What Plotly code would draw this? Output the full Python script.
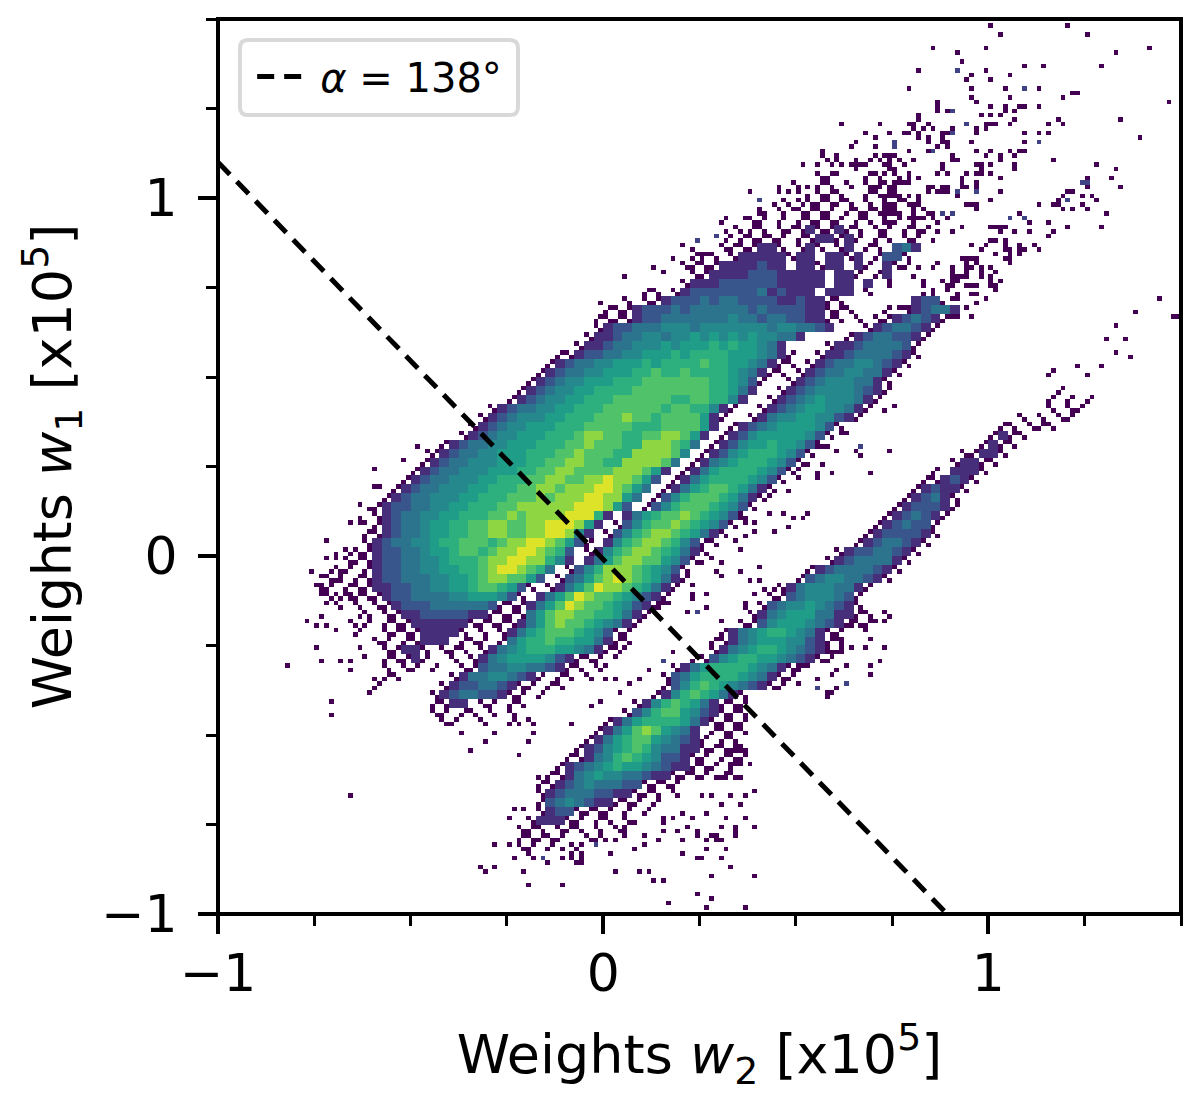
import numpy as np
import plotly.graph_objects as go

BIN = 0.0125          # true histogram bin
FIRST_ROW = 15
# 2-D histogram on a grid of two bins per cell, top row first.
# Each token is "first column:levels"; levels 0-9 are colour steps, "." is an empty cell.
# Level 0 means a sparsely filled cell (only a diagonal pair of its bins is hit).
ROWS = [
"68:0.0",
"66:0..0",
"62:00...00.0",
"62:00.0.0000",
"62:000..0000",
"61:00000.0.0000",
"56:0.0.0000.000000",
"55:00.0.00000.00.00.0",
"55:00.000100100.00.000",
"54:00000.0011010.00.00",
"52:0000110.010.01.00.0 70:231",
"50:00.011111011.1101.01 69:220",
"48:00001111211.11011.10.0 69:100",
"49:00111122211111.110.01",
"48:011122222211111.11.1",
"44:00.012222222312111.111.0",
"42:0.001222323322221121100 72:122",
"40:00012223233333323222211000 71:012331",
"39:00001223333333433233221100.0 68:00123210",
"39:0122333444344444443443321 67:01233210",
"38:01123344344545454544331 65:012332210",
"37:0112334445455565655431 63:0112333320",
"35:0012233445556566665554310 62:01123333210",
"34:01233445556566667665543100 61:01233443210",
"33:01233445556676676666543100 60:01233443310",
"32:0123445556667777777665420 59:01234443310",
"31:0123445566667777777766531 58:012344443210 87:0",
"30:0123445566677777766776641 57:012345444310 86:0.0.0",
"28:01233445566677777767766410 56:012345544310 85:.0.00",
"27:01234445566677787767777510 55:013445544210 83:0.0.00",
"26:01234455566677777666777751 53:012345555420 81:00.000",
"25:01234455566678877667788751 52:012455555420 80:0100",
"23:012334455566677877766888763 51:012455655420 79:0100",
"22:012334455566677877766888874 50:012456665420 77:00110",
"21:012334445556677887766888873 49:013456665420 76:01100",
"20:012334445556677887777888751 48:013566665420 74:0.1110",
"19:012334445566677887788988752 47:013566665420 73:001210",
"18:012334445566677887888998753 46:013567765310 72:012110",
"17:012334445566677787888998853 45:024677765310 71:012310",
"16:012233445566677888888999852 44:024677765420 70:0122210",
"16:0123344556667787888899961 42:1356778765420 69:0123210",
"16:012334556677887788999851 41:0246778765420 68:0123220",
"15:001233455667788778899841 40:0246788765310 67:01222210",
"15:012334456677767889987520 40:146788764200 66:01233210",
"14:00122334556776788998762 38:01 40:46788765310 64:012233210",
"13:000122334456667889988641 38:135788775420 63:012333310",
"12:00.01223344556678998763 36:0246888765420 61:0123333210",
"11:00.00122333445567887752 35:02357898765310 60:0234433210",
"10:00.00011223344556776520 34:01357988765310 58:0134443310",
"11:0.0000122333344555420 33:13579877654210 57:0023444320",
"12:0.0.001222333333200 31:013579877654210 56:02344543210",
"15:0.00112222211000 31:03578877665310 55:0134555331100.0",
"15:0.0001111110000 30:01357877654310 54:00245554321000",
"14:0..000011110.0. 29:01356777654200 52:0134566543100",
"16:00.00111.000. 29:03566766553100 51:00134555442100",
"17:00110.000.0 28:13456665543100 51:01345665432100",
"17:00010..0. 26:01345555421000 49:002456655432100",
"17:0.00.0..0 26:023344332100.0 47:01356666543100",
"17:00 24:0133443210.00.0 46:02356666543100",
"16:0 23:0122332100.00 46:0246765432100",
"22:0123322100.0 45:0146765310",
"22:0011.00.00 43:014676531000",
"22:00.00.0.0 42:0246775421000",
"23:00..0..0 40:013566665310000",
"39:01357875431.0000",
"38:0135677543210.0 52:00",
"37:0124567643311000 53:00",
"36:001346765422100.000",
"35:01234565543211000.0",
"34:00134544332110000.00",
"33:001234333220000",
"33:0123332211000.0",
"33:02343211000.0",
"33:01220000.0.0",
"32:011100.00.0",
"31:000.000.0.0",
"31:00000..00",
"31:00.0",
"32:0",
]
# Colour position of each level on the viridis ramp
LEVEL_POS = [0, .13, .27, .38, .47, .55, .63, .72, .83, .95]

# Isolated single-count bins: (w1, [w2, ...])
SPARSE_ROWS = [
(1.48,[1.005,1.205]),(1.453,[1.03,1.255]),(1.416,[.856,.993,1.418]),(1.403,[.918,1.33]),(1.379,[.931]),
(1.366,[1.093,1.143,1.293]),(1.353,[.818,.993]),(1.341,[.956,1.056]),(1.328,[.944,1.005]),
(1.303,[.794,.956,1.043,1.13]),(1.291,[1.218,1.23]),(1.278,[.956,1.056,1.193]),(1.265,[.868,.969,1.468]),
(1.253,[.868,1.005,1.043,1.08,1.093,1.13]),(1.241,[.868,.893,1.043,1.068]),(1.228,[.981,1.005,1.03,.818]),
(1.216,[.818,1.068,1.181,1.342]),(1.202,[.718,.805,.794,.843,.993,1.005,1.018,1.056,1.155,1.193]),
(1.191,[.993,.831,.856,.905,.969,.805]),(1.178,[.744,.782,.794,.818,.88,.893,.969,1.093,1.13,1.155]),
(1.165,[.818,.843,.88,1.393]),(1.153,[.843,.88,.893,.956,1.093]),(1.141,[.868,.893]),
(1.128,[.794,.843,.969,1.005,1.056,1.08,1.093]),(1.115,[.905,.993,1.03,1.068,.731,.744,.757]),
(1.104,[.905,.918,1.03,1.168,.744,.805]),(1.092,[1.28,.969,.981,1.005,1.068,.88,.731,.782]),
(1.079,[1.068,1.33,.88,.981,.757]),(1.067,[.969,.981,.868,.893,.944,1.005,.757,.731,.794]),
(1.054,[1.03,1.255,1.317,.931,.794,.818]),(1.042,[.931,.969,.782,.794,.757]),
(1.03,[1.255,1.342,.931,.944,.969,.843,.856,.88,.893,.757,.718]),(1.017,[.868,.88,.893,.843,1.03,1.205,1.218]),
(1.005,[.918,1.193,1.243,1.268,.744,.757,.794,.818]),(.992,[1.005,1.28,1.181,.731,.768]),
(.979,[.944,.956,.969,1.13,1.168,1.181,1.243,.794,.818,.731]),(.967,[.969,1.193,1.218,1.255,.731,.805,.831]),
(.953,[1.08,1.305,.744,.757,.805,.843,.856]),(.941,[.794,.805,.818,.831,.856,.893]),(.929,[.868,.731,1.105,1.155]),
(.916,[.931,1.205,1.293,1.005,1.018,1.03,1.043]),(.904,[.868,.905,1.03,1.068,1.105,1.168]),(.891,[1.155]),
(.879,[1.005,1.018,1.043,.856]),(.867,[.956,.993,1.043,1.08,1.118]),(.855,[.981,1.043,1.056,1.08,1.093,1.13]),
(.842,[1.018,1.056,1.08]),(.83,[.931,.944,.956,.969,1.043,1.056]),(.818,[.868,.944,.969,1.056]),
(.805,[.818,.856,.905,.944,.956,.981,1.005]),(.792,[.905,.944,.981,1.018]),(.78,[.905,.918,.931,.944,.981,1.005,.805]),
(.767,[.831,.88,.905,.918,1.005,1.03,.744]),(.755,[.831,.893,.905,.944,.956,.969,1.005,1.018,.744]),
(.743,[.856,.893,1.018]),(.73,[.831,.856,.918,.956,.969]),(.718,[.818,.831,.856,.868,.905,.918,.993,1.443]),
(.706,[.856,.88,.969]),(.693,[.744,.768,.794,.818,.843,.856,.905,.918,.944]),
(.681,[.731,.794,.805,.818,.831,.843,.856,.868,.88,.905,1.38]),(.669,[.756,.782,.805,.831,.905,.918,.956,1.48,1.493]),
(.718,[1.445]),(.668,[1.49]),(.642,[1.329]),(.601,[1.303,1.355]),(.567,[1.329]),(.559,[1.368]),(.531,[1.225,1.29]),
(.517,[1.165]),(.503,[1.152,1.251]),
(1.203,[.618,.718]),(1.178,[.68,.743]),(1.165,[.705]),(1.153,[.655]),(1.141,[.643,.705]),(1.127,[.568]),
(1.114,[.568,.605,.705,.727,.744]),(1.101,[.605,.58,.655,.692]),(1.092,[.518,.556,.593,.618,.643,.655,.68,.736,.749]),
(1.075,[.756]),(1.068,[.606]),(1.042,[.493]),(1.029,[.455,.505,.531,.556]),(1.017,[.381,.455,.48,.505]),(1.003,[.531]),
(.991,[.467,.505]),(.982,[.518]),(.978,[.443,.48]),(.968,[.493]),(.954,[.405,.417]),(.942,[.317]),(.94,[.368,.381]),
(.929,[.305]),(.915,[.342]),(.902,[.317,.355]),(.892,[.33]),(.88,[.317]),(.866,[.204,.305]),(.854,[.23]),
(.843,[.243,.256,.269]),(.829,[.18,.23]),(.804,[.131]),(.791,[.156]),(.779,[.056]),(.703,[-.005]),
(.419,[.756]),(.403,[.731]),(.386,[.649]),(.377,[.602,.662]),(.358,[.58]),(.34,[.615,.632]),(.312,[.528]),
(.303,[.554,.58]),(.291,[.744,.606,.656]),(.277,[.668]),(.275,[.511]),(.256,[.537,.563,.493]),(.238,[.511]),
(.228,[.593,.692,.556]),(.219,[.502]),(.214,[.556]),(.182,[.45]),(.177,[.481]),(.163,[.433]),(.154,[.416]),
(.116,[.431,.468,.531]),(.107,[.355]),(.102,[.493,.518]),(.089,[.368,.398]),(.079,[.481]),(.065,[.443,.394]),
(.061,[.364]),(.051,[.321]),(.042,[.338]),(.014,[.355]),(-.005,[.286]),(-.023,[.312,.251]),(-.035,[.406]),
(-.042,[.294]),(-.048,[.356]),(-.06,[.306]),(-.073,[.381,.406]),(-.086,[.231]),(-.098,[.417,.442]),
(-.11,[.393,.268,.231]),(-.123,[.231]),(-.126,[.156,.169]),(-.135,[.368]),(-.137,[.169]),(-.146,[.368]),
(-.147,[.144,.268]),(-.159,[.218]),(-.181,[.701,.623]),(-.184,[.306]),(-.186,[.727]),(-.191,[.649]),(-.209,[.675]),
(-.228,[.692]),(-.237,[.597,.615]),(-.258,[.057]),(-.261,[.73,.68,.643]),(-.265,[.545]),(-.27,[.618]),(-.272,[.181]),
(-.275,[.58]),(-.284,[.031]),(-.293,[.563]),(-.298,[.718]),(-.303,[.511]),(-.309,[.63,.692]),(-.311,[.006]),
(-.312,[.528]),(-.323,[.606,.119]),(-.33,[.589]),(-.335,[.692]),(-.34,[.554]),(-.345,[.006,.031,.094]),
(-.358,[.511,.07]),(-.363,[.606]),(-.372,[.606]),(-.386,[.044,.58,.593,.043]),(-.4,[.58]),
(.24,[-.595]),(.191,[-.588,-.577]),(.265,[-.519]),(.303,[-.483]),(.291,[-.457]),(.141,[-.631]),(.129,[-.607]),
(.102,[-.631]),(.09,[-.657,-.631,-.618]),(.04,[-.72]),(.016,[-.668]),(.01,[-.631]),(.005,[-.657]),(.002,[-.694]),
(-.01,[-.694,-.72]),(-.02,[-.644]),(-.03,[-.657]),(-.047,[-.756,-.707]),(-.06,[-.732]),(-.075,[-.7,-.687]),
(-.086,[-.732]),(-.1,[-.66]),(-.112,[-.694,-.732]),(-.116,[-.675,-.66]),(-.126,[-.72]),(-.137,[-.72]),
(-.172,[-.732,-.631]),(-.185,[-.769,-.657]),(-.198,[-.744,-.72,-.644]),(-.209,[-.694]),(-.251,[-.631]),
(-.261,[-.744]),(-.284,[-.623]),(-.298,[-.732,-.681,-.657]),(-.307,[-.821]),(-.323,[-.657]),(-.349,[-.592]),
(-.377,[-.605]),(-.405,[-.704]),(-.444,[-.709]),(-.673,[-.652]),
(-.548,[-.345]),(-.561,[-.22]),(-.811,[-.281,-.245,-.082,-.057,.105]),(-.71,[-.232,-.208]),(-.736,[-.245,.18,.23,.317,.368,.156]),
(-.849,[-.232,.243,.255,.305,-.107,-.082,-.057]),(-.873,[-.32,-.314,-.281,.33]),(-.885,[-.308,-.208,.03,.093,.118]),
(-.923,[-.195,-.107]),(-.623,[-.17]),(-.636,[-.145]),(-.649,[-.17]),(-.91,[.131,.156]),(-.964,[.168]),(-.973,[.168]),
(-.948,[.243]),(-.961,[.279]),(-.985,[.267,.368]),(-.898,[.279,.393]),(-.836,[.205,.017]),(-.824,[.267,.317,.08,-.07,-.107]),
(-.761,[.393,.305,.342,.218,.055]),(-.723,[.267,.205]),(-.699,[.305,.355]),(-.675,[.28,.33,.368,.255]),
(-.774,[.342,.243,.193,.156,.055]),(-.787,[.342,.243,.055,.277,.29]),(-.748,[.156]),(-.798,[.143,.205,.03,.005,.29,.305,.265]),
(-.785,[.105]),(-.749,[.08]),(-.474,[-.082,-.182,-.219]),(-.523,[-.195,-.307]),(-.498,[-.282,-.182,-.369]),(-.461,[-.195]),
(-.424,[-.032]),(-.411,[-.007]),(-.837,[-.082,-.057]),(-.861,[-.07,-.057,-.145]),
(-.549,[.329,.342,.355,.372]),(-.586,[.337,.362,.38]),(-.624,[.294,.31,.325,.34,.355]),(-.661,[.389]),
]
SPARSE_BLUE_W2 = [.918,1.093,.905,.944,.905,1.13,.756,.856,.88,.905,1.056,1.093,1.243,1.255,.918,.969,1.205,.756,.756,.405,.292,.243,.156,.243,.556,.63,.692,.668,-.157,-.023]
SPARSE_BLUE_W1 = [1.353,1.303,1.241,1.202,1.178,1.153,1.153,1.128,.953,.953,.941,.941,1.042,1.042,1.017,1.017,.992,1.153,1.141,.991,.892,.88,-.298,-.159,-.374,-.36,.416,.303,-.849,-.811]

LINE_W2 = [-1.0, 0.893]
LINE_W1 = [1.10, -1.0]
LEGEND_LABEL = "\u2009<i>α</i> = 138°"
X_TITLE = "Weights <i>w</i><sub>2</sub> [x10<sup>5</sup>]"
Y_TITLE = "Weights <i>w</i><sub>1</sub> [x10<sup>5</sup>]"

FONT = "DejaVu Sans"

n = int(round(2.5 / BIN))
z = np.full((n, n), np.nan)
for k, row in enumerate(ROWS):
    r = FIRST_ROW + k
    for tok in row.split():
        start, levels = tok.split(":")
        for j, ch in enumerate(levels):
            if ch == ".":
                continue
            c = int(start) + j
            block = z[2 * r:2 * r + 2, 2 * c:2 * c + 2]
            if ch == "0":
                block[:] = np.nan
                if (r + c) % 2:
                    block[0, 0] = block[1, 1] = LEVEL_POS[0]
                else:
                    block[0, 1] = block[1, 0] = LEVEL_POS[0]
            else:
                block[:] = LEVEL_POS[int(ch)]


def put(w2, w1, value):
    col = int((w2 + 1) / BIN)
    row = int((1.5 - w1) / BIN)
    if 0 <= col < n and 0 <= row < n and np.isnan(z[row, col]):
        z[row, col] = value


for w1, w2s in SPARSE_ROWS:
    for w2 in w2s:
        put(w2, w1, 0.0)
for w2, w1 in zip(SPARSE_BLUE_W2, SPARSE_BLUE_W1):
    put(w2, w1, 0.2)

xc = -1 + BIN * (np.arange(n) + .5)
yc = 1.5 - BIN * (np.arange(n) + .5)

fig = go.Figure()
fig.add_trace(go.Heatmap(x=xc, y=yc, z=z, zmin=0, zmax=1, colorscale="Viridis",
                         showscale=False, hoverongaps=False, showlegend=False))
fig.add_trace(go.Scatter(x=LINE_W2, y=LINE_W1, mode="lines", name=LEGEND_LABEL,
                         line=dict(color="black", width=5, dash="17px,10px")))

axis = dict(range=[-1, 1.5], showgrid=False, zeroline=False, showline=False,
            ticks="outside", ticklen=19, tickwidth=4, tickcolor="black",
            tick0=-1, dtick=1, tickfont=dict(family=FONT, size=52, color="black"),
            minor=dict(dtick=0.25, ticks="outside", ticklen=11, tickwidth=3, tickcolor="black", showgrid=False))

fig.update_layout(
    width=1200, height=1106, autosize=False,
    margin=dict(l=218, r=19, t=19, b=192),
    paper_bgcolor="white", plot_bgcolor="white",
    font=dict(family=FONT, color="black"),
    showlegend=True,
    xaxis=dict(axis, ticklabelstandoff=-5, title=dict(text=X_TITLE, font=dict(family=FONT, size=54), standoff=32)),
    yaxis=dict(axis, ticklabelstandoff=10, title=dict(text=Y_TITLE, font=dict(family=FONT, size=54), standoff=12)),
    legend=dict(x=0.0355, y=0.972, xanchor="left", yanchor="top", bgcolor="rgba(0,0,0,0)",
                borderwidth=0, font=dict(family=FONT, size=40), itemwidth=50),
    shapes=[
        dict(type="path", xref="paper", yref="paper", layer="above",
             path="M 0.0311,0.9765 Q 0.0228,0.9765 0.0228,0.9675 L 0.0228,0.9017 Q 0.0228,0.8927 0.0311,0.8927 "
                  "L 0.3032,0.8927 Q 0.3115,0.8927 0.3115,0.9017 L 0.3115,0.9675 Q 0.3115,0.9765 0.3032,0.9765 Z",
             line=dict(color="#d9d9d9", width=4), fillcolor="white"),
        dict(type="rect", xref="paper", yref="paper", x0=0, x1=1, y0=0, y1=1, layer="above",
             line=dict(color="black", width=4), fillcolor="rgba(0,0,0,0)"),
    ],
)
fig.write_html("out.html", config={"displayModeBar": False},
               post_script="document.body.style.margin='0';")
